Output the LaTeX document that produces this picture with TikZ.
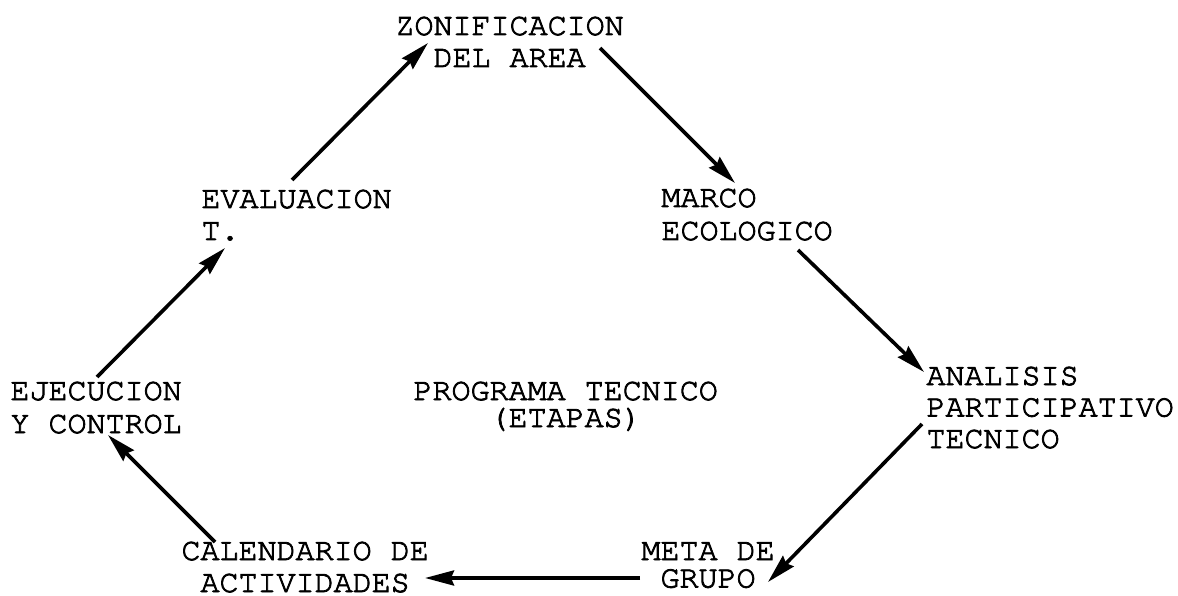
\documentclass[tikz,border=0pt]{standalone}
\usepackage[T1,TU]{fontenc}
\usetikzlibrary{arrows.meta,calc}
\newcommand\tw{\fontencoding{T1}\fontfamily{pcr}\fontseries{m}\fontshape{n}\fontsize{31.7}{32}\selectfont}
\newcommand\heavy{\special{pdf:literal direct 2 Tr 0.8 w}}
\newcommand\linesC[2]{\heavy\vtop{\baselineskip=#1\relax\lineskiplimit=-100pt\halign{\hfil##\hfil\cr #2\crcr}}}
\newcommand\linesL[2]{\heavy\vtop{\baselineskip=#1\relax\lineskiplimit=-100pt\halign{##\hfil\cr #2\crcr}}}
\begin{document}
\begin{tikzpicture}[x=1pt,y=-1pt,
  lbl/.style={inner sep=0pt,outer sep=0pt,anchor=base west,font=\tw},
  conn/.style={line width=3.6pt,-{Stealth[length=29pt,width=15pt,inset=3pt]}}]
\useasboundingbox[fill=white] (0,0) rectangle (1178,596);
\node[lbl] (zon) at (395.5,35) {\linesC{32pt}{ZONIFICACION\cr DEL AREA}};
\node[lbl] (eval) at (201.5,208) {\linesL{32pt}{EVALUACION\cr T.}};
\node[lbl] (marco) at (661.5,207) {\linesL{33pt}{MARCO\cr ECOLOGICO}};
\node[lbl] (anal) at (926.5,385) {\linesL{31.5pt}{ANALISIS\cr PARTICIPATIVO\cr TECNICO}};
\node[lbl] (ejec) at (10.5,400) {\linesL{33pt}{EJECUCION\cr Y CONTROL}};
\node[lbl] (prog) at (413.5,400) {\linesC{27pt}{PROGRAMA TECNICO\cr (ETAPAS)}};
\node[lbl] (cal) at (181.5,560) {\linesC{32pt}{CALENDARIO DE\cr ACTIVIDADES}};
\node[lbl] (meta) at (641.5,560) {\linesC{27.5pt}{META DE\cr GRUPO}};
\draw[conn] ($(eval.base west)+(90.5,-28)$) -- ($(zon.base west)+(32.5,8)$);
\draw[conn] ($(zon.base west)+(204.5,13)$) -- ($(marco.base west)+(73.5,-24)$);
\draw[conn] ($(marco.base west)+(136.5,43)$) -- ($(anal.base west)+(-2.5,-13)$);
\draw[conn] ($(anal.base west)+(-4.5,39)$) -- ($(meta.base west)+(126.5,22)$);
\draw[conn] ($(meta.base west)+(-1.5,18)$) -- ($(cal.base west)+(243.5,18)$);
\draw[conn] ($(cal.base west)+(33.5,-18)$) -- ($(ejec.base west)+(97.5,35)$);
\draw[conn] ($(ejec.base west)+(86.5,-23)$) -- ($(eval.base west)+(23.5,40)$);
\end{tikzpicture}
\end{document}
